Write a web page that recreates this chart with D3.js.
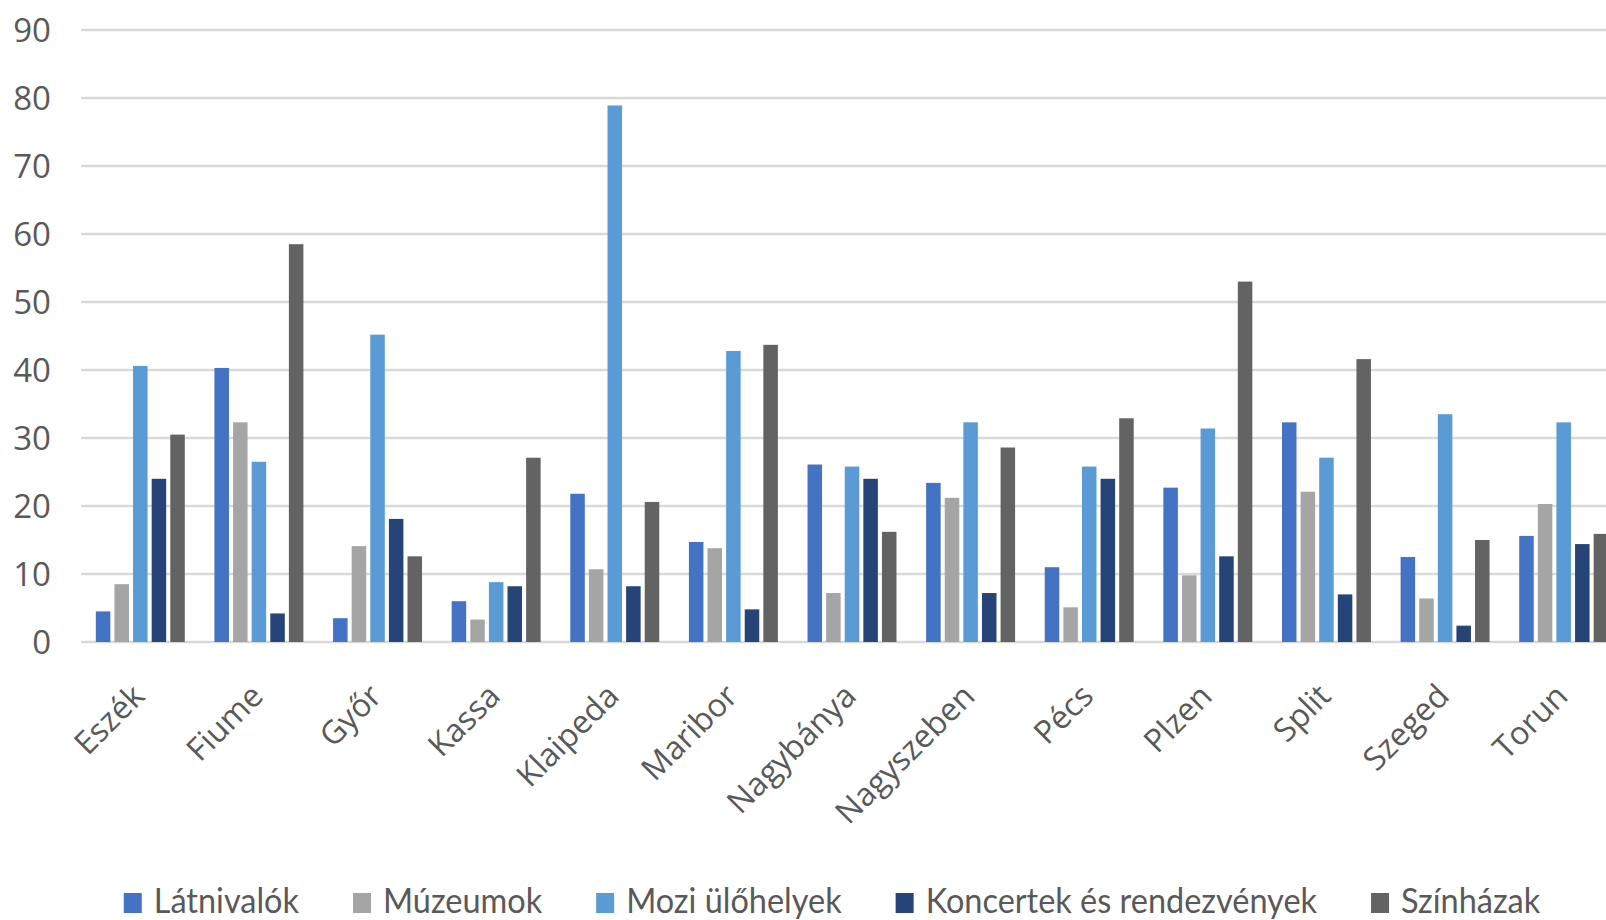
<!DOCTYPE html>
<html>
<head>
<meta charset="utf-8">
<script src="https://cdn.jsdelivr.net/npm/d3@7"></script>
<style>
  html, body { margin: 0; padding: 0; background: #fff; }
  svg { display: block; }
</style>
</head>
<body>
<div id="chart"></div>
<script>
// city names along the x axis
const cities = ["Eszék", "Fiume", "Győr", "Kassa", "Klaipeda", "Maribor", "Nagybánya",
                "Nagyszeben", "Pécs", "Plzen", "Split", "Szeged", "Torun"];

const seriesNames = ["Látnivalók", "Múzeumok", "Mozi ülőhelyek", "Koncertek és rendezvények", "Színházak"];

// values
const latnivalok = [4.5, 40.3, 3.5, 6.0, 21.8, 14.7, 26.1, 23.4, 11.0, 22.7, 32.3, 12.5, 15.6];
const muzeumok   = [8.5, 32.3, 14.1, 3.3, 10.7, 13.8, 7.2, 21.2, 5.1, 9.8, 22.1, 6.4, 20.3];
const mozi       = [40.6, 26.5, 45.2, 8.8, 78.9, 42.8, 25.8, 32.3, 25.8, 31.4, 27.1, 33.5, 32.3];
const koncertek  = [24.0, 4.2, 18.1, 8.2, 8.2, 4.8, 24.0, 7.2, 24.0, 12.6, 7.0, 2.4, 14.4];
const szinhazak  = [30.5, 58.5, 12.6, 27.1, 20.6, 43.7, 16.2, 28.6, 32.9, 53.0, 41.6, 15.0, 15.9];

const yTicks = [0, 10, 20, 30, 40, 50, 60, 70, 80, 90];

const seriesValues = [latnivalok, muzeumok, mozi, koncertek, szinhazak];
const colors = ["#4472C4", "#A5A5A5", "#5B9BD5", "#264478", "#636363"];

const W = 1606, H = 920;
// plot runs past the right edge of the picture, as in the original
const plotLeft = 81, plotRight = 1623, plotTop = 30, plotBottom = 642;

const svg = d3.select("#chart").append("svg")
    .attr("width", W).attr("height", H);

const x0 = d3.scaleBand().domain(cities).range([plotLeft, plotRight])
    .paddingInner(0.25).paddingOuter(0.125);
const x1 = d3.scaleBand().domain(seriesNames).range([0, x0.bandwidth()])
    .paddingInner(0.22);
const y = d3.scaleLinear().domain([0, 90]).range([plotBottom, plotTop]);

// gridlines
svg.append("g")
    .selectAll("line")
    .data(yTicks)
    .enter().append("line")
    .attr("x1", plotLeft).attr("x2", plotRight)
    .attr("y1", d => y(d)).attr("y2", d => y(d))
    .attr("stroke", "#d9d9d9")
    .attr("stroke-width", 2.5);

// y axis labels
svg.append("g")
    .selectAll("text")
    .data(yTicks)
    .enter().append("text")
    .attr("x", 51)
    .attr("y", d => y(d))
    .attr("dy", "0.36em")
    .attr("text-anchor", "end")
    .style("font-family", "'Open Sans', sans-serif")
    .style("font-size", "33px")
    .attr("fill", "#595959")
    .text(d => d);

// bars
const rows = cities.map((c, i) => {
    const r = { city: c };
    seriesNames.forEach((s, j) => r[s] = seriesValues[j][i]);
    return r;
});

svg.append("g")
    .selectAll("g")
    .data(rows)
    .enter().append("g")
    .attr("transform", d => `translate(${x0(d.city)},0)`)
    .selectAll("rect")
    .data(d => seriesNames.map((s, j) => ({ key: s, value: d[s], j: j })))
    .enter().append("rect")
    .attr("x", d => x1(d.key))
    .attr("width", x1.bandwidth())
    .attr("y", d => y(d.value))
    .attr("height", d => y(0) - y(d.value))
    .attr("fill", d => colors[d.j]);

// x axis labels, rotated
svg.append("g")
    .selectAll("text")
    .data(cities)
    .enter().append("text")
    .attr("transform", d => `translate(${x0(d) + x0.bandwidth() / 2 + 6},${plotBottom + 56}) rotate(-45)`)
    .attr("text-anchor", "end")
    .style("font-family", "'Open Sans', sans-serif")
    .style("font-size", "32px")
    .attr("fill", "#595959")
    .text(d => d);

// legend (text squeezed a little, the original font is narrower)
const squeeze = 0.955;
const legend = svg.append("g");
const items = legend.selectAll("g")
    .data(seriesNames)
    .enter().append("g");

items.append("rect")
    .attr("width", 18).attr("height", 20)
    .attr("y", 893)
    .attr("fill", (d, i) => colors[i]);

items.append("text")
    .attr("transform", `translate(30,913) scale(${squeeze},1)`)
    .style("font-family", "Lato, sans-serif")
    .style("font-size", "34px")
    .attr("fill", "#595959")
    .text(d => d);

let offset = 0;
const widths = [];
items.each(function() {
    const tw = d3.select(this).select("text").node().getComputedTextLength();
    widths.push(30 + tw * squeeze);
});
const total = d3.sum(widths) + 54 * (widths.length - 1);
offset = 832 - total / 2;
items.attr("transform", (d, i) => {
    const t = `translate(${offset},0)`;
    offset += widths[i] + 54;
    return t;
});
</script>
</body>
</html>
